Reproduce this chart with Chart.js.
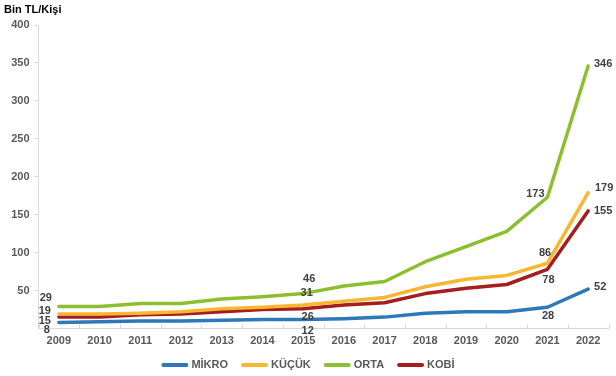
<!DOCTYPE html>
<html>
<head>
<meta charset="utf-8">
<script src="https://cdn.jsdelivr.net/npm/chart.js@4.4.0/dist/chart.umd.min.js"></script>
<style>
html,body{margin:0;padding:0;background:#fff;}
#c{display:block;}
</style>
</head>
<body>
<canvas id="c" width="616" height="376"></canvas>
<script>
const years = ['2009','2010','2011','2012','2013','2014','2015','2016','2017','2018','2019','2020','2021','2022'];
const mikro = [8, 9, 10, 10, 11, 12, 12, 13, 15, 20, 22, 22, 28, 52];
const kucuk = [19, 19, 20, 22, 26, 28, 31, 36, 41, 55, 65, 70, 86, 179];
const orta  = [29, 29, 33, 33, 39, 42, 46, 56, 62, 88, 108, 128, 173, 346];
const kobi  = [15, 15, 18, 19, 22, 25, 26, 31, 34, 46, 53, 58, 78, 155];
const seriesNames = ['MİKRO', 'KÜÇÜK', 'ORTA', 'KOBİ'];
const yTicks = [50, 100, 150, 200, 250, 300, 350, 400];
const unitTitle = 'Bin TL/Kişi';

const colors = ['#2E78B7', '#F7B731', '#8DBE2F', '#A51D1F'];
const FONT = '"Liberation Sans", Arial, sans-serif';

// label placements: [datasetIndex, pointIndex, dx, dy]
const labelSpots = [
  [2,0,-13,-8.5],[1,0,-14,-3],[3,0,-14,4],[0,0,-12,7.5],
  [2,6,6,-15],[1,6,3.5,-11.7],[3,6,4.5,8.3],[0,6,4.5,11.7],
  [2,12,-12,-3.3],[1,12,-2.4,-10],[3,12,1,11],[0,12,0.6,8.8],
  [2,13,15,-2.5],[1,13,16,-4.4],[3,13,15,0.5],[0,13,12,-2]
];

const extras = {
  id: 'extras',
  afterDatasetsDraw(chart) {
    const ctx = chart.ctx;
    ctx.save();
    ctx.font = 'bold 11px ' + FONT;
    ctx.fillStyle = '#404040';
    ctx.textAlign = 'center';
    ctx.textBaseline = 'middle';
    labelSpots.forEach(([d, i, dx, dy]) => {
      const pt = chart.getDatasetMeta(d).data[i];
      const v = chart.data.datasets[d].data[i];
      ctx.fillText(String(v), pt.x + dx, pt.y + dy);
    });
    // x-axis inner tick marks
    const xs = chart.scales.x;
    const base = chart.chartArea.bottom;
    ctx.strokeStyle = '#D9D9D9';
    ctx.lineWidth = 1;
    ctx.beginPath();
    for (let i = 0; i <= years.length; i++) {
      const px = Math.round(xs.getPixelForValue(i - 0.5)) + 0.5;
      ctx.moveTo(px, base);
      ctx.lineTo(px, base - 4);
    }
    ctx.stroke();
    // title
    ctx.fillStyle = '#000';
    ctx.textAlign = 'left';
    ctx.fillText(unitTitle, 4, 10);
    // legend
    const lineW = 27, gap = 3, itemGap = 13, ly = 365;
    ctx.font = 'bold 11px ' + FONT;
    const items = chart.data.datasets.map(ds => ({
      text: ds.label, color: ds.borderColor, w: lineW + gap + ctx.measureText(ds.label).width
    }));
    const total = items.reduce((a, it) => a + it.w, 0) + itemGap * (items.length - 1);
    let x = (chart.width - total) / 2;
    items.forEach(it => {
      ctx.strokeStyle = it.color;
      ctx.lineWidth = 4;
      ctx.lineCap = 'round';
      ctx.beginPath();
      ctx.moveTo(x + 2, ly);
      ctx.lineTo(x + lineW - 2, ly);
      ctx.stroke();
      ctx.fillStyle = '#595959';
      ctx.textAlign = 'left';
      ctx.textBaseline = 'middle';
      ctx.fillText(it.text, x + lineW + gap, ly);
      x += it.w + itemGap;
    });
    ctx.restore();
  }
};

const series = [mikro, kucuk, orta, kobi];
new Chart(document.getElementById('c'), {
  type: 'line',
  data: {
    labels: years,
    datasets: series.map((s, k) => ({
      label: seriesNames[k],
      data: s,
      borderColor: colors[k],
      backgroundColor: colors[k],
      borderWidth: 3.5,
      pointRadius: 0,
      tension: 0,
      borderJoinStyle: 'round',
      borderCapStyle: 'round',
      fill: false
    }))
  },
  options: {
    responsive: false,
    animation: false,
    layout: { padding: { top: 25, right: 7.5, left: 0, bottom: 27.5 } },
    plugins: {
      legend: { display: false },
      tooltip: { enabled: false }
    },
    scales: {
      x: {
        offset: true,
        grid: { display: false, drawTicks: false },
        border: { color: '#D9D9D9', width: 1 },
        ticks: {
          padding: 6,
          color: '#595959',
          maxRotation: 0,
          font: { family: FONT, size: 11, weight: 'bold' }
        },
        afterFit(s) { s.height = 20; }
      },
      y: {
        min: 0,
        max: 400,
        afterBuildTicks(s) { s.ticks = yTicks.map(v => ({ value: v })); },
        grid: { drawOnChartArea: false, drawTicks: true, tickLength: 4, color: '#D9D9D9' },
        border: { color: '#D9D9D9', width: 1 },
        ticks: {
          padding: 5,
          color: '#595959',
          font: { family: FONT, size: 11, weight: 'bold' }
        },
        afterFit(s) { s.width = 38.5; }
      }
    }
  },
  plugins: [extras]
});
</script>
</body>
</html>
